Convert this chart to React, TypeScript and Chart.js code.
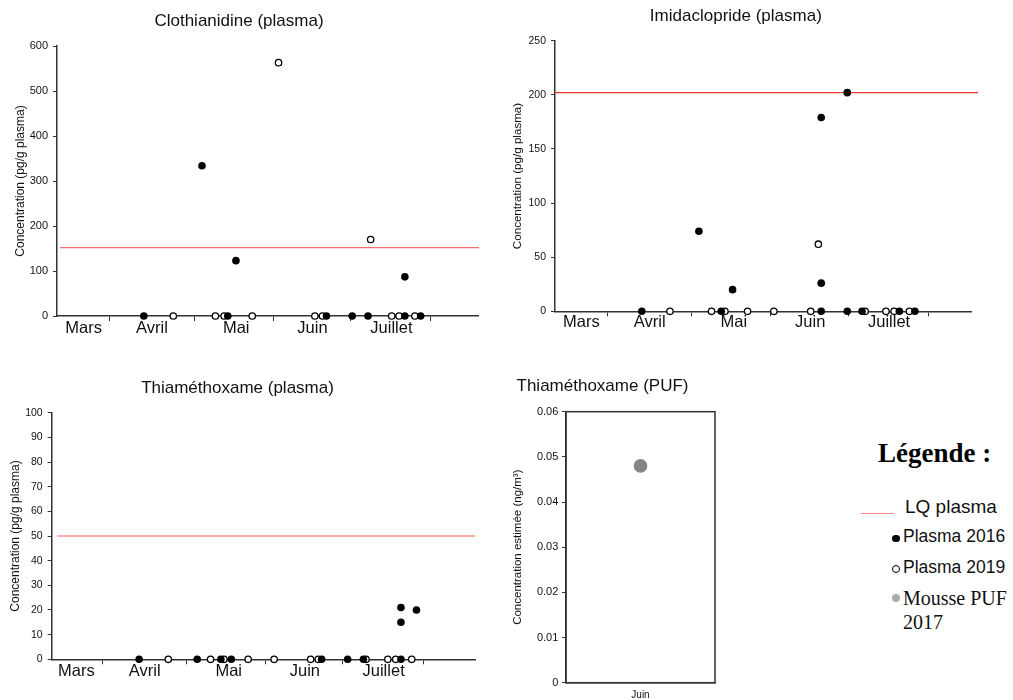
import React, { useEffect, useRef } from 'react';
import { Chart, registerables } from 'chart.js';

Chart.register(...registerables);

const SANS = '"Liberation Sans", Arial, Helvetica, sans-serif';
const SERIF = '"Liberation Serif", "Times New Roman", Times, serif';
const INK = '#111';
const AXIS = '#333';

// ---- shared x axis (day of year) ----
const monthBoundaries = [91, 123, 153, 182.5, 213];
const monthLabelPos = [81, 107, 139, 168, 198];
const monthLabels = ['Mars', 'Avril', 'Mai', 'Juin', 'Juillet'];

// ---- Clothianidine (plasma) ----
const cloDays2016 = [103.9, 126.0, 135.8, 138.9, 173.3, 183.1, 189.1, 203.1, 203.1, 209.1];
const cloVals2016 = [0, 334, 0, 123, 0, 0, 0, 87, 0, 0];
const cloDays2019 = [115.1, 131.1, 134.4, 145.1, 155.1, 168.9, 171.8, 190.1, 198.1, 200.9, 206.9];
const cloVals2019 = [0, 0, 0, 0, 563, 0, 0, 170, 0, 0, 0];
const cloLQ = 152;

// ---- Imidaclopride (plasma) ----
const imiDays2016 = [104.0, 125.7, 134.2, 138.5, 172.2, 172.2, 172.2, 182.1, 182.1, 187.7, 201.9, 207.8];
const imiVals2016 = [0, 74, 0, 20, 179, 26, 0, 202, 0, 0, 0, 0];
const imiDays2019 = [114.7, 130.5, 135.6, 144.2, 154.2, 168.2, 171.1, 188.9, 196.8, 199.9, 205.7];
const imiVals2019 = [0, 0, 0, 0, 0, 0, 62, 0, 0, 0, 0];
const imiLQ = 202;

// ---- Thiaméthoxame (plasma) ----
const thiDays2016 = [104.9, 127.0, 136.0, 140.0, 174.4, 184.3, 190.3, 204.6, 204.6, 204.6, 210.5];
const thiVals2016 = [0, 0, 0, 0, 0, 0, 0, 21, 15, 0, 20];
const thiDays2019 = [116.0, 132.1, 137.2, 146.4, 156.3, 170.2, 173.1, 191.3, 199.6, 202.6, 208.7];
const thiVals2019 = [0, 0, 0, 0, 0, 0, 0, 0, 0, 0, 0];
const thiLQ = 50;

// ---- Thiaméthoxame (PUF) ----
const pufLabels = ['Juin'];
const pufValues = [0.048];

const zip = (xs: number[], ys: number[]) => xs.map((x, i) => ({ x, y: ys[i] }));

interface PlasmaSpec {
  title: string;
  d16: number[]; v16: number[];
  d19: number[]; v19: number[];
  lq: number; lqFrom: number; lqTo: number; lqColor: string;
  xMin: number; xMax: number; yMax: number; yStep: number;
  titleTop: number; titleBottom: number;
  yW: number; xH: number; padRight: number;
  monthPad: number; yTitlePad: number; yTickSize: number; yTitleSize: number;
}

function plasmaConfig(p: PlasmaSpec): any {
  const allTicks = [...monthBoundaries, ...monthLabelPos].sort((a, b) => a - b);
  return {
    type: 'scatter',
    data: {
      datasets: [
        {
          label: 'Plasma 2016', data: zip(p.d16, p.v16), showLine: false,
          pointRadius: 3.8, pointHoverRadius: 3.8, pointBackgroundColor: '#000',
          pointBorderColor: '#000', pointBorderWidth: 0, order: 0, clip: false,
        },
        {
          label: 'Plasma 2019', data: zip(p.d19, p.v19), showLine: false,
          pointRadius: 3.2, pointHoverRadius: 3.2, pointBackgroundColor: '#fff',
          pointBorderColor: '#000', pointBorderWidth: 1.3, order: 1, clip: false,
        },
        {
          type: 'line', label: 'LQ plasma',
          data: [{ x: p.lqFrom, y: p.lq }, { x: p.lqTo, y: p.lq }],
          borderColor: p.lqColor, borderWidth: 1.2, pointRadius: 0, fill: false,
          order: 2, clip: false,
        },
      ],
    },
    options: {
      responsive: false,
      animation: false,
      events: [],
      layout: { padding: { left: 0, right: p.padRight, top: 0, bottom: 0 } },
      plugins: {
        legend: { display: false },
        tooltip: { enabled: false },
        title: {
          display: true, text: p.title, color: INK,
          font: { family: SANS, size: 17, weight: 'normal', lineHeight: 1.2 },
          padding: { top: p.titleTop, bottom: p.titleBottom },
        },
      },
      scales: {
        x: {
          type: 'linear', min: p.xMin, max: p.xMax,
          afterBuildTicks: (s: any) => { s.ticks = allTicks.map((v) => ({ value: v })); },
          afterFit: (s: any) => { s.height = p.xH; },
          ticks: {
            autoSkip: false, maxRotation: 0, minRotation: 0, padding: p.monthPad, color: INK,
            font: { family: SANS, size: 16.5, lineHeight: 1 },
            callback: (v: number) => {
              const i = monthLabelPos.indexOf(v);
              return i >= 0 ? monthLabels[i] : '';
            },
          },
          grid: {
            drawOnChartArea: false, drawTicks: true, tickLength: 5, tickWidth: 1,
            tickColor: (ctx: any) =>
              ctx.tick && monthBoundaries.indexOf(ctx.tick.value) >= 0 ? AXIS : 'rgba(0,0,0,0)',
          },
          border: { display: true, color: AXIS, width: 1.5 },
        },
        y: {
          type: 'linear', min: 0, max: p.yMax,
          afterFit: (s: any) => { s.width = p.yW; },
          ticks: { stepSize: p.yStep, padding: 5, color: INK, font: { family: SANS, size: p.yTickSize } },
          grid: { drawOnChartArea: false, drawTicks: true, tickLength: 4, tickColor: AXIS, tickWidth: 1 },
          border: { display: true, color: AXIS, width: 1.5 },
          title: {
            display: true, text: 'Concentration (pg/g plasma)', color: INK,
            font: { family: SANS, size: p.yTitleSize, lineHeight: 1.2 },
            padding: { top: p.yTitlePad, bottom: 0 },
          },
        },
      },
    },
  };
}

const boxPlugin = {
  id: 'boxFrame',
  beforeDatasetsDraw(chart: any) {
    const { ctx, chartArea } = chart;
    const { left, top, right, bottom } = chartArea;
    ctx.save();
    ctx.strokeStyle = AXIS;
    ctx.lineWidth = 1.5;
    ctx.strokeRect(left, top, right - left, bottom - top);
    ctx.restore();
  },
};

function pufConfig(): any {
  return {
    type: 'line',
    data: {
      labels: pufLabels,
      datasets: [
        {
          label: 'Mousse PUF 2017', data: pufValues, showLine: false,
          pointRadius: 6.8, pointHoverRadius: 6.8, pointBackgroundColor: '#858585',
          pointBorderWidth: 0, clip: false,
        },
      ],
    },
    options: {
      responsive: false,
      animation: false,
      events: [],
      layout: { padding: { left: 0, right: 69, top: 0, bottom: 0 } },
      plugins: {
        legend: { display: false },
        tooltip: { enabled: false },
        title: {
          display: true, text: 'Thiaméthoxame (PUF)', color: INK,
          font: { family: SANS, size: 17, weight: 'normal', lineHeight: 1.2 },
          padding: { top: 15.8, bottom: 15.5 },
        },
      },
      scales: {
        x: {
          type: 'category', offset: true,
          afterFit: (s: any) => { s.height = 17.3; },
          ticks: { padding: 6.3, color: INK, font: { family: SANS, size: 10, lineHeight: 1.2 } },
          grid: { drawOnChartArea: false, drawTicks: false },
          border: { display: true, color: AXIS, width: 1.5 },
        },
        y: {
          type: 'linear', min: 0, max: 0.06,
          afterFit: (s: any) => { s.width = 76; },
          ticks: {
            stepSize: 0.01, padding: 3.7, color: INK, font: { family: SANS, size: 11 },
            callback: (v: number) => (Math.abs(v) < 1e-9 ? '0' : v.toFixed(2)),
          },
          grid: { drawOnChartArea: false, drawTicks: true, tickLength: 4, tickColor: AXIS },
          border: { display: true, color: AXIS, width: 1.5 },
          title: {
            display: true, text: 'Concentration estimée (ng/m³)', color: INK,
            font: { family: SANS, size: 11.5, lineHeight: 1.2 },
            padding: { top: 21.4, bottom: 0 },
          },
        },
      },
    },
    plugins: [boxPlugin],
  };
}

function ChartBox(props: { make: () => any; left: number; top: number; width: number; height: number }) {
  const ref = useRef<HTMLCanvasElement>(null);
  useEffect(() => {
    const chart = new Chart(ref.current as HTMLCanvasElement, props.make());
    return () => chart.destroy();
  }, []);
  return (
    <canvas
      ref={ref}
      width={props.width}
      height={props.height}
      style={{ position: 'absolute', left: props.left, top: props.top, width: props.width, height: props.height }}
    />
  );
}

const abs = (left: number, top: number, extra: any = {}) => ({ position: 'absolute' as const, left, top, ...extra });

export default function App() {
  return (
    <div style={{ position: 'absolute', left: 0, top: 0, width: 1013, height: 700, background: '#fff', overflow: 'hidden' }}>
      <ChartBox
        left={0} top={0} width={498} height={340}
        make={() => plasmaConfig({
          title: 'Clothianidine (plasma)',
          d16: cloDays2016, v16: cloVals2016, d19: cloDays2019, v19: cloVals2019,
          lq: cloLQ, lqFrom: 72.1, lqTo: 231.3, lqColor: '#f26b6b',
          xMin: 70.9, xMax: 230.9, yMax: 600, yStep: 100,
          titleTop: 10.8, titleBottom: 14.8, yW: 57, xH: 24, padRight: 20,
          monthPad: -1.25, yTitlePad: 13.8, yTickSize: 11, yTitleSize: 12,
        })}
      />
      <ChartBox
        left={500} top={0} width={490} height={340}
        make={() => plasmaConfig({
          title: 'Imidaclopride (plasma)',
          d16: imiDays2016, v16: imiVals2016, d19: imiDays2019, v19: imiVals2019,
          lq: imiLQ, lqFrom: 71, lqTo: 231.8, lqColor: '#e53935',
          xMin: 71, xMax: 229.4, yMax: 250, yStep: 50,
          titleTop: 5.8, titleBottom: 14.5, yW: 55, xH: 28.7, padRight: 18.3,
          monthPad: -2.05, yTitlePad: 11.3, yTickSize: 10.5, yTitleSize: 11.6,
        })}
      />
      <ChartBox
        left={0} top={360} width={490} height={340}
        make={() => plasmaConfig({
          title: 'Thiaméthoxame (plasma)',
          d16: thiDays2016, v16: thiVals2016, d19: thiDays2019, v19: thiVals2019,
          lq: thiLQ, lqFrom: 73.6, lqTo: 232.8, lqColor: '#f06060',
          xMin: 71.6, xMax: 232.8, yMax: 100, yStep: 10,
          titleTop: 17.8, titleBottom: 14.5, yW: 51.7, xH: 40.7, padRight: 15,
          monthPad: -1.55, yTitlePad: 8.5, yTickSize: 10.5, yTitleSize: 12,
        })}
      />
      <ChartBox left={490} top={360} width={294} height={340} make={pufConfig} />

      {/* Legend */}
      <div style={abs(878, 440.4, { font: `bold 27px ${SERIF}`, lineHeight: '27px', color: '#000', whiteSpace: 'nowrap' })}>
        Légende :
      </div>
      <div style={abs(861, 513, { width: 33, height: 1, background: '#f08a8a' })} />
      <div style={abs(905, 496.6, { font: `19px ${SANS}`, lineHeight: '19px', color: INK, whiteSpace: 'nowrap' })}>
        LQ plasma
      </div>
      <div style={abs(892.2, 534.5, { width: 7.6, height: 7.6, borderRadius: '50%', background: '#000' })} />
      <div style={abs(903, 528.2, { font: `17.5px ${SANS}`, lineHeight: '17.5px', color: INK, whiteSpace: 'nowrap' })}>
        Plasma 2016
      </div>
      <div style={abs(892, 564.8, { width: 8.4, height: 8.4, boxSizing: 'border-box', borderRadius: '50%', border: '1.4px solid #000', background: '#fff' })} />
      <div style={abs(903, 559.2, { font: `17.5px ${SANS}`, lineHeight: '17.5px', color: INK, whiteSpace: 'nowrap' })}>
        Plasma 2019
      </div>
      <div style={abs(891.8, 594.1, { width: 8.4, height: 8.4, borderRadius: '50%', background: '#aaaaaa' })} />
      <div style={abs(903, 588.2, { font: `20px ${SERIF}`, lineHeight: '20px', color: INK, whiteSpace: 'nowrap' })}>
        Mousse PUF
      </div>
      <div style={abs(903, 611.5, { font: `20px ${SERIF}`, lineHeight: '20px', color: INK, whiteSpace: 'nowrap' })}>
        2017
      </div>
    </div>
  );
}
